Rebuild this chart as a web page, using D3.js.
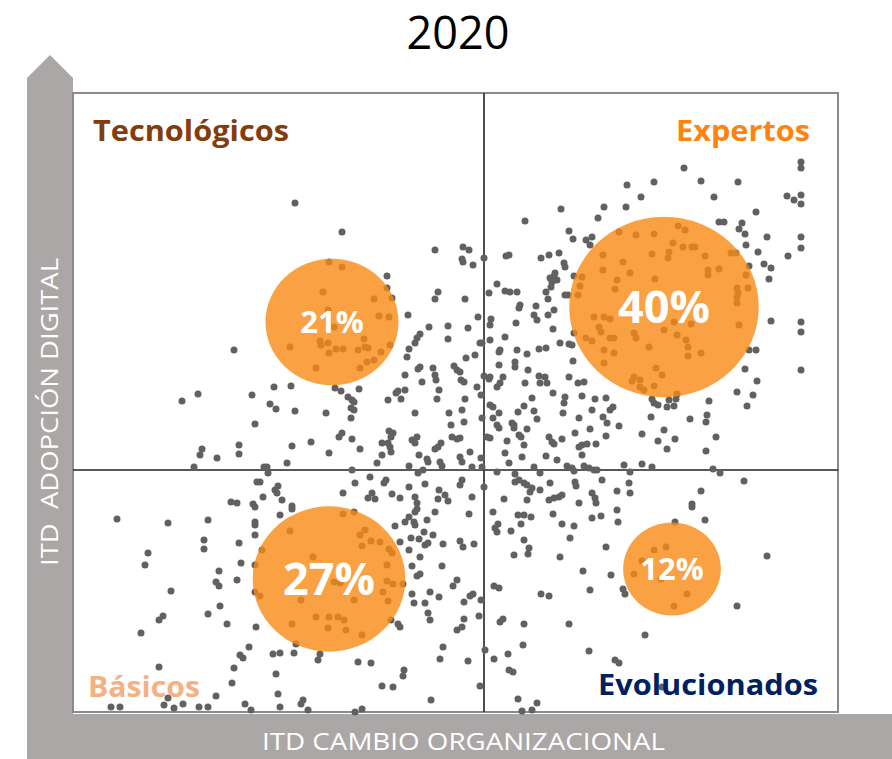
<!DOCTYPE html>
<html>
<head>
<meta charset="utf-8">
<script src="https://cdn.jsdelivr.net/npm/d3@7"></script>
<style>
  body { margin: 0; background: #fff; }
  text { font-family: "Open Sans", Lato, sans-serif; }
</style>
</head>
<body>
<svg width="892" height="759"></svg>
<script>
// datos
const title = '2020';
const xAxisLabel = 'ITD CAMBIO ORGANIZACIONAL';
const yAxisLabel = 'ITD  ADOPCIÓN DIGITAL';
const quadrants = ['Tecnológicos', 'Expertos', 'Básicos', 'Evolucionados'];
const shares = [21, 40, 27, 12];
const centerX = [25.9, 59.1, 25.6, 59.9];
const centerY = [39.0, 40.5, 13.3, 14.3];
const splitX = 41.1, splitY = 24.2;

// empresas (cambio organizacional, adopción digital)
const firms = [
  [22.2,50.9],[26.9,48.0],[36.2,46.2],[25.6,45.0],[26.9,44.5],[31.4,43.6],[25.0,42.0],[31.4,42.4],[36.5,42.0],[30.1,41.3],[31.9,41.4],[36.2,41.3],
  [39.0,46.5],[39.6,46.2],[38.9,45.3],[39.0,45.0],[40.0,44.7],[41.1,45.4],[43.3,45.6],[43.6,45.7],[42.4,42.8],[41.6,41.9],[43.2,42.1],[43.7,42.0],[44.4,42.0],
  [45.2,49.1],[48.8,50.3],[46.8,45.4],[47.6,45.7],[48.6,45.9],[49.1,44.9],[49.2,44.5],[49.6,48.1],[50.0,47.3],[51.3,47.2],[51.9,47.5],[51.7,46.7],[52.5,49.4],
  [53.1,50.5],[55.3,50.5],[55.4,52.7],[56.8,51.5],[48.2,43.9],[48.1,43.6],[47.7,43.4],[48.4,43.2],[47.9,43.0],[47.8,42.5],[47.3,42.0],[47.5,41.3],[49.2,41.7],
  [49.5,41.7],[50.1,43.6],[50.9,43.5],[50.7,42.6],[50.5,41.7],[53.0,45.7],[53.0,44.2],[54.6,48.0],[56.3,47.7],[55.0,45.0],[55.7,43.9],[54.4,43.2],[54.2,42.3],[39.2,41.3],
  [61.1,54.4],[58.1,53.0],[62.8,53.1],[66.5,53.0],[64.1,51.5],[72.8,55.0],[72.8,54.4],[71.4,51.6],[72.1,51.2],[72.8,51.7],[72.8,50.8],[68.3,50.0],[64.6,49.0],
  [65.1,49.0],[66.9,48.9],[66.6,48.3],[67.2,47.8],[69.4,47.5],[67.3,46.7],[72.8,47.5],[72.8,46.4],[68.5,46.0],[71.5,45.6],[69.1,44.8],[69.8,44.4],[67.6,44.6],
  [69.6,43.3],[65.8,45.9],[66.3,45.9],[58.1,47.8],[60.5,48.6],[61.2,48.2],[60.0,46.9],[61.0,46.5],[61.9,46.5],[62.2,46.5],[59.6,46.0],[59.5,45.4],[57.9,45.8],
  [63.2,45.6],[63.5,44.2],[63.5,43.7],[64.6,44.3],[58.2,43.3],[67.3,43.7],[66.4,42.4],[66.5,41.9],[66.4,41.5],[67.5,42.4],
  [16.1,36.2],[12.5,31.8],[10.9,31.1],[17.9,31.7],[18.2,28.8],[12.9,26.3],[12.7,25.7],[14.4,25.4],[16.6,26.7],[16.6,25.8],[12.1,24.5],[19.1,24.5],[18.4,23.0],
  [18.7,23.0],[19.0,21.5],[15.8,21.0],[16.4,20.9],[18.0,20.8],
  [25.5,40.2],[26.1,38.5],[24.7,37.1],[24.8,36.7],[25.5,36.9],[26.3,36.3],[27.0,36.3],[25.6,35.9],[21.7,36.5],[24.3,34.4],[28.5,36.2],[29.1,37.3],[29.2,36.5],
  [29.5,36.4],[30.8,36.0],[29.4,35.0],[30.1,35.2],[30.6,39.6],[31.6,39.5],[28.7,34.4],
  [33.5,39.7],[35.6,38.5],[37.5,38.6],[37.5,37.3],[34.7,37.8],[34.4,37.4],[34.2,36.9],[33.6,36.3],[33.4,35.5],[31.7,36.7],[38.1,34.6],[34.5,34.3],[34.7,34.5],
  [36.0,34.4],[36.2,33.7],[36.3,33.2],[34.9,33.0],[33.2,33.7],[32.3,31.9],[32.5,32.1],[33.2,32.2],[32.8,31.3],[31.5,31.2],[36.6,32.2],[36.4,31.3],[37.6,29.9],
  [37.8,28.7],[34.2,29.9],[20.1,32.5],[21.8,32.6],[26.2,32.4],[26.8,32.1],[28.6,32.3],[27.5,31.5],[27.9,31.2],[28.1,31.0],[27.8,30.4],[28.1,30.2],[27.8,29.4],
  [19.7,30.8],[20.3,30.3],[22.2,30.1],[25.3,29.9],[26.9,27.9],[26.6,27.5],[27.9,27.3],[23.8,27.0],[21.9,26.6],[28.7,26.3],[25.6,25.9],[21.4,24.9],[31.6,28.1],
  [32.0,27.9],[31.8,27.5],[31.5,26.9],[31.7,26.5],[31.8,26.0],[30.9,26.9],[30.9,25.7],[30.4,24.9],[33.9,27.2],[34.4,27.5],[34.2,26.9],[34.6,25.7],[33.6,24.6],
  [35.4,25.3],[35.5,25.0],[36.5,26.5],[36.2,26.3],[36.8,26.9],[36.7,25.0],[36.9,24.6],[37.9,27.5],[38.4,27.3],[34.5,23.9],[35.0,24.2],[27.9,24.2],[19.4,24.5],
  [19.5,23.9],[29.7,23.5],[31.3,23.2],[31.1,22.9],[28.2,22.9],[20.5,22.6],[20.2,22.2],[20.4,21.9],[27.0,21.9],[29.9,21.9],[29.5,21.4],[30.2,21.3],[31.9,21.8],
  [32.7,21.4],[33.6,22.5],[35.2,22.8],[36.6,22.2],[37.2,21.7],[37.5,21.1],[36.5,21.3],[34.2,21.5],[34.4,20.9],[20.9,21.2],[21.9,20.6],
  [40.5,39.5],[39.5,38.4],[41.8,39.3],[41.7,38.7],[44.3,38.9],[44.7,40.7],[44.6,40.4],[46.3,40.6],[46.1,39.7],[46.4,39.2],[47.5,39.7],[48.1,40.2],[48.0,38.3],
  [43.2,37.5],[40.7,36.9],[40.9,36.9],[41.7,37.2],[40.2,35.7],[39.3,35.4],[42.6,36.0],[42.7,36.2],[44.4,36.2],[45.4,35.8],[46.6,36.3],[47.3,36.4],[48.7,36.9],
  [49.6,36.8],[49.9,36.7],[50.1,37.9],[44.2,35.0],[44.2,34.5],[42.6,34.7],[45.5,34.2],[50.0,35.1],[38.4,34.2],[38.7,34.0],[41.1,33.6],[41.6,33.3],[41.7,33.5],
  [43.0,33.5],[38.8,33.2],[39.1,33.0],[42.4,32.5],[42.7,32.9],[45.2,32.9],[46.6,33.6],[46.7,32.9],[47.2,33.5],[47.4,32.9],[49.6,33.5],[50.5,32.9],[51.1,33.0],
  [40.4,32.5],[40.8,31.7],[39.2,31.3],[45.9,31.4],[48.0,31.9],[49.2,31.5],[50.9,31.6],[52.2,31.3],[53.3,31.4],[41.7,30.7],[42.0,30.5],[45.1,30.6],[49.1,30.9],
  [49.0,29.9],[46.1,30.1],[44.5,30.0],[51.9,30.2],[53.7,30.2],[54.0,30.5],[38.9,30.2],[39.1,29.0],[40.9,29.4],[42.0,29.4],[42.6,29.9],[43.9,28.9],[44.1,28.7],
  [44.1,28.4],[42.4,28.7],[42.6,28.4],[45.4,28.3],[46.4,29.3],[50.6,29.4],[51.7,28.3],[53.0,29.5],[53.4,28.9],[54.6,28.6],[56.9,27.8],[38.7,27.4],[41.4,27.5],
  [41.7,27.4],[43.4,27.1],[44.6,27.7],[44.8,27.5],[45.1,26.7],[47.6,27.5],[47.9,27.0],[48.1,26.8],[48.9,27.3],[50.2,27.9],[50.6,26.5],[50.9,26.7],[51.4,26.8],
  [52.3,26.8],[53.3,27.6],[39.7,26.0],[43.2,25.9],[44.9,25.5],[47.3,25.6],[50.9,25.7],[48.4,25.2],[43.6,24.9],[40.8,25.4],[38.7,25.5],[38.9,25.0],[39.9,24.5],
  [40.9,24.5],[42.4,24.0],[44.2,23.8],[46.1,24.5],[46.7,23.9],[49.4,24.6],[49.9,24.4],[50.1,24.1],[51.1,24.6],[51.6,24.4],[52.1,24.2],[52.4,24.2],[55.1,24.7],
  [55.7,24.0],[56.9,24.8],[38.9,23.2],[38.7,22.7],[41.1,22.5],[39.9,21.5],[44.2,23.0],[44.6,23.2],[45.1,22.9],[45.4,22.7],[45.7,22.0],[45.9,22.4],[46.7,22.2],
  [47.7,22.9],[50.2,23.0],[50.3,22.6],[51.9,21.9],[52.9,23.2],[54.4,22.1],[55.6,22.9],[55.7,21.9],[43.1,21.3],[45.4,21.2],[47.6,21.2],[48.1,21.4],[48.6,21.5],
  [48.9,21.7],[50.6,20.9],[52.2,21.4],[52.3,20.9],
  [52.1,39.5],[53.1,39.5],[53.7,39.3],[52.6,38.5],[52.8,38.0],[51.3,37.4],[51.9,37.1],[53.7,37.4],[54.1,37.4],[53.1,36.2],[54.1,35.9],[56.1,37.9],[56.3,37.4],
  [53.1,34.9],[55.9,33.1],[56.1,33.5],[56.7,33.2],[56.7,32.5],[57.1,32.2],
  [69.8,39.1],[72.8,39.0],[72.8,38.0],[72.8,34.2],[67.6,36.2],[68.3,36.2],[67.2,34.3],[68.4,33.1],[66.4,32.0],[68.0,31.7],[67.4,30.6],[63.6,31.1],[63.4,29.7],
  [63.3,29.0],[61.7,29.3],[64.3,27.5],[63.3,26.1],[60.2,27.3],[59.1,28.2],[58.5,27.1],[59.4,26.3],[57.8,29.5],[57.9,24.5],[64.0,24.3],[64.7,23.9],[67.1,23.1],
  [62.8,22.1],[61.9,20.8],[58.1,30.9],[58.5,30.7],[59.4,30.5],[59.6,31.2],[60.1,30.6],[60.3,31.3],[57.9,31.3],
  [60.1,39.0],[59.1,38.2],[60.4,37.7],[61.3,37.2],[61.5,36.5],[61.5,35.6],[62.8,35.9],[61.8,38.8],[58.3,34.4],[58.9,33.7],[58.1,32.6],[60.4,31.8],[66.6,38.7],
  [66.4,40.9],[57.6,36.5],
  [4.4,19.3],[9.5,18.9],[13.5,19.2],[18.2,20.5],[18.2,19.0],[18.2,18.7],[18.2,17.7],[13.1,17.2],[13.1,16.3],[16.6,16.9],[7.5,15.9],[7.2,14.7],[16.8,14.9],
  [14.6,14.1],[14.3,13.0],[14.6,12.6],[16.4,13.2],[9.8,12.1],[14.7,10.6],[9.0,9.6],[8.6,9.2],[13.5,9.8],[15.4,8.8],[18.3,8.5],[6.8,7.9],[17.6,6.5],[16.7,5.7],
  [17.0,5.4],[8.6,4.5],[16.1,4.4],[15.9,2.9],[9.5,1.4],[9.1,0.7],[10.1,0.4],[11.0,0.8],[3.8,0.5],[4.7,0.5],[12.6,0.5],[13.5,0.5],[14.3,1.6],[17.2,0.8],[17.8,0.2],
  [18.9,16.2],[18.2,14.7],[18.2,12.0],[18.7,11.6],
  [20.7,19.7],[21.9,20.3],[32.2,18.6],[33.2,19.0],[33.6,19.5],[34.2,20.0],[34.4,20.3],[34.1,19.0],[34.2,18.7],[35.4,19.2],[36.2,20.0],[35.1,18.0],[36.0,17.7],
  [33.8,17.4],[34.6,17.3],[32.7,17.0],[35.2,16.7],[35.5,16.9],[37.0,16.8],[33.6,16.2],[34.7,15.5],[33.9,14.6],[36.9,14.6],[34.4,13.6],[34.7,13.8],[38.4,13.2],
  [38.0,12.6],[33.0,12.8],[33.9,11.8],[35.7,12.0],[36.6,11.5],[34.1,10.9],[35.2,10.9],[35.5,9.9],[35.7,9.2],[32.5,8.8],[32.7,8.5],[37.0,6.5],[36.7,5.3],[38.4,8.2],
  [20.0,5.8],[20.7,5.9],[22.1,5.9],[24.5,5.2],[28.5,5.0],[29.8,4.9],[33.1,4.2],[33.0,3.6],[20.3,3.8],[30.9,2.6],[32.0,2.5],[20.5,1.8],[23.0,1.2],[22.8,0.8],
  [20.7,0.5],[23.5,0.2],[28.2,0.0],[28.9,0.3],[35.8,1.2],
  [21.7,18.1],[27.0,19.8],[28.1,20.0],[28.7,17.7],[29.2,18.2],[28.9,16.6],[29.8,17.1],[30.7,17.0],[31.6,16.3],[31.9,15.9],[24.0,15.5],[31.4,14.7],[26.1,13.0],
  [26.7,12.9],[31.4,13.1],[32.0,12.8],[31.0,12.0],[28.1,11.2],[22.8,11.2],[31.5,11.1],[24.3,9.5],[25.6,9.5],[26.5,9.5],[27.1,9.2],[21.9,8.8],[25.5,8.4],
  [27.3,8.2],[31.8,9.2],[28.9,7.7],[22.3,6.8],[24.7,5.8],
  [39.6,19.8],[42.0,20.0],[44.5,19.7],[45.1,19.7],[45.8,19.5],[48.0,19.8],[51.9,19.4],[52.8,19.6],[54.4,20.2],[54.5,19.0],[42.5,18.8],[42.2,18.4],[42.4,18.0],
  [43.8,18.1],[44.8,18.8],[48.9,18.8],[50.1,18.6],[49.7,17.4],[45.1,17.2],[45.6,16.4],[45.5,15.8],[44.1,15.7],[48.7,15.5],[53.3,16.5],[38.7,17.1],[39.0,16.5],
  [40.1,16.8],[51.0,14.1],[53.8,13.7],[42.1,12.6],[42.6,12.4],[46.8,11.8],[47.6,11.6],[51.7,12.2],[55.0,12.3],[55.2,11.8],[40.0,11.8],[39.7,11.6],[39.1,11.0],
  [40.8,11.2],[39.1,9.3],[38.9,8.5],[40.6,9.6],[42.7,9.0],[43.0,9.3],[45.1,8.8],[49.6,8.8],[57.2,7.7],[41.2,6.2],[39.5,5.1],[42.1,5.3],[43.5,5.8],[45.0,6.7],
  [51.6,6.1],[54.2,5.2],[54.6,4.9],[43.6,4.2],[44.0,4.0],[40.7,2.6],[44.5,1.3],[46.4,0.9],[45.9,0.2],[44.9,0.1],[56.9,15.1],[56.1,13.8],
  [60.2,19.0],[63.2,19.2],[69.4,15.6],[66.4,10.6],[61.9,20.5],[58.9,2.5],[58.1,16.2],[59.3,16.5],[58.8,13.3],[61.4,11.8],[60.1,10.6]
];

const labelColors = ['#843c0c', '#ff8310', '#f4b183', '#002060'];

const svg = d3.select('svg');

// area del grafico
const plotLeft = 73, plotRight = 838, plotTop = 93, plotBottom = 712;
const x = d3.scaleLinear().domain([0, 76.5]).range([plotLeft, plotRight]);
const y = d3.scaleLinear().domain([0, 61.9]).range([plotBottom, plotTop]);
const r = d3.scalePow().exponent(0.55).domain([0, 40]).range([0, 92]);

// flechas grises de los ejes
const arrowGray = '#aba7a7';
svg.append('path')
    .attr('d', 'M27,759 L27,78 L50,55 L73,78 L73,759 Z')
    .attr('fill', arrowGray);
svg.append('rect')
    .attr('x', 27).attr('y', 714).attr('width', 870).attr('height', 45)
    .attr('fill', arrowGray);

svg.append('text')
    .attr('x', 262).attr('y', 750)
    .attr('font-size', 24)
    .attr('textLength', 403)
    .attr('lengthAdjust', 'spacingAndGlyphs')
    .attr('fill', '#fff')
    .text(xAxisLabel);

svg.append('text')
    .attr('transform', 'translate(58,566) rotate(-90)')
    .attr('font-size', 24)
    .attr('textLength', 308)
    .attr('lengthAdjust', 'spacingAndGlyphs')
    .attr('fill', '#fff')
    .style('white-space', 'pre')
    .text(yAxisLabel);

// marco
svg.append('rect')
    .attr('x', plotLeft).attr('y', plotTop)
    .attr('width', plotRight - plotLeft).attr('height', plotBottom - plotTop)
    .attr('fill', '#fff')
    .attr('stroke', '#8a8a8a')
    .attr('stroke-width', 2);

// lineas de cuadrantes
svg.append('line')
    .attr('x1', x(splitX)).attr('x2', x(splitX))
    .attr('y1', plotTop).attr('y2', plotBottom)
    .attr('stroke', '#222').attr('stroke-width', 1.6);
svg.append('line')
    .attr('x1', plotLeft).attr('x2', plotRight)
    .attr('y1', y(splitY)).attr('y2', y(splitY))
    .attr('stroke', '#222').attr('stroke-width', 1.6);

// puntos
svg.append('g').selectAll('circle')
    .data(firms)
    .join('circle')
    .attr('cx', d => x(d[0]))
    .attr('cy', d => y(d[1]))
    .attr('r', 3.5)
    .attr('fill', '#616161');

// burbujas
const bubbles = shares.map((s, i) => ({ share: s, cx: centerX[i], cy: centerY[i] }));
svg.append('g').selectAll('ellipse')
    .data(bubbles)
    .join('ellipse')
    .attr('cx', d => x(d.cx))
    .attr('cy', d => y(d.cy))
    .attr('rx', d => r(d.share) * 1.03)
    .attr('ry', d => r(d.share) * 0.98)
    .attr('fill', '#f98a14')
    .attr('fill-opacity', 0.8);

svg.append('g').selectAll('text')
    .data(bubbles)
    .join('text')
    .attr('x', d => x(d.cx))
    .attr('y', d => y(d.cy))
    .attr('dy', '0.36em')
    .attr('text-anchor', 'middle')
    .attr('font-size', d => d.share > 25 ? 45 : 31)
    .attr('font-weight', 'bold')
    .attr('fill', '#fff')
    .text(d => d.share + '%');

// nombres de cuadrantes
const labelPos = [
    { x: 93, y: 141, w: 196 },
    { x: 676, y: 141, w: 134 },
    { x: 88, y: 697, w: 112 },
    { x: 598, y: 695, w: 220 }
];
svg.append('g').selectAll('text')
    .data(quadrants)
    .join('text')
    .attr('x', (d, i) => labelPos[i].x)
    .attr('y', (d, i) => labelPos[i].y)
    .attr('textLength', (d, i) => labelPos[i].w)
    .attr('lengthAdjust', 'spacingAndGlyphs')
    .attr('font-size', 29)
    .attr('font-weight', 'bold')
    .attr('fill', (d, i) => labelColors[i])
    .text(d => d);

// titulo
svg.append('text')
    .attr('x', 458).attr('y', 49)
    .attr('text-anchor', 'middle')
    .attr('font-size', 45)
    .attr('fill', '#000')
    .text(title);
</script>
</body>
</html>
